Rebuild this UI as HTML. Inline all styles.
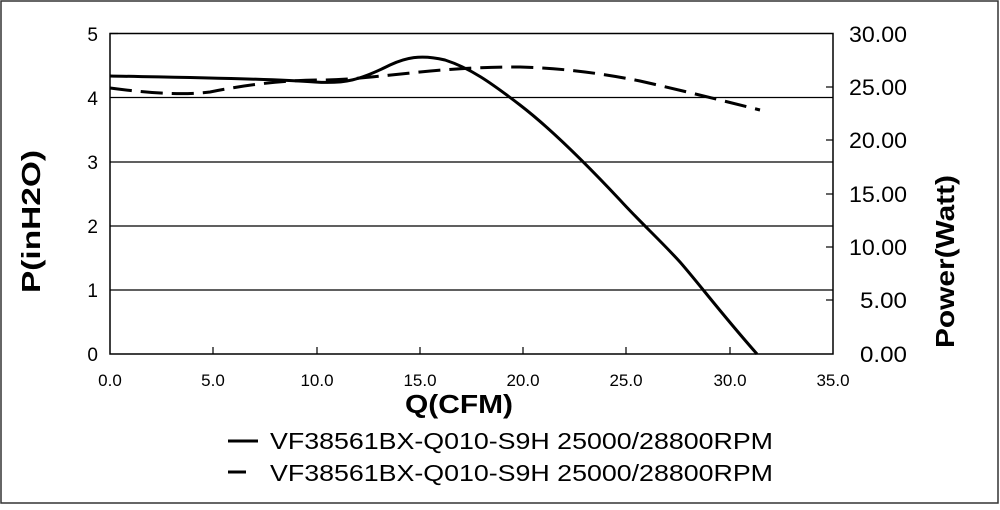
<!DOCTYPE html>
<html><head><style>body{margin:0;background:#fff}</style></head><body>
<svg width="1000" height="505" xmlns="http://www.w3.org/2000/svg" font-family="Liberation Sans, sans-serif">
<rect x="1" y="1" width="997" height="502" fill="#fff" stroke="#333" stroke-width="1.5"/>
<g stroke="#000" stroke-width="1.2">
<line x1="110" y1="97.5" x2="833" y2="97.5"/>
<line x1="110" y1="162" x2="833" y2="162"/>
<line x1="110" y1="226" x2="833" y2="226"/>
<line x1="110" y1="290" x2="833" y2="290"/>
</g>
<rect x="110" y="33.5" width="723" height="320.5" fill="none" stroke="#000" stroke-width="1.5"/>
<g stroke="#000" stroke-width="1.2">
<line x1="110" y1="33.5" x2="118" y2="33.5"/>
<line x1="213" y1="354" x2="213" y2="347"/><line x1="317" y1="354" x2="317" y2="347"/>
<line x1="420" y1="354" x2="420" y2="347"/><line x1="523" y1="354" x2="523" y2="347"/>
<line x1="626" y1="354" x2="626" y2="347"/><line x1="730" y1="354" x2="730" y2="347"/>
<line x1="833" y1="87" x2="826" y2="87"/><line x1="833" y1="140" x2="826" y2="140"/>
<line x1="833" y1="194" x2="826" y2="194"/><line x1="833" y1="247" x2="826" y2="247"/>
<line x1="833" y1="300" x2="826" y2="300"/>
</g>
<g font-size="19" text-anchor="end" fill="#000">
<text x="98" y="41">5</text><text x="98" y="105">4</text><text x="98" y="169">3</text>
<text x="98" y="233">2</text><text x="98" y="297">1</text><text x="98" y="361">0</text>
</g>
<g font-size="22" fill="#000" lengthAdjust="spacingAndGlyphs">
<text x="849" y="42" textLength="58" lengthAdjust="spacingAndGlyphs">30.00</text><text x="849" y="95" textLength="58" lengthAdjust="spacingAndGlyphs">25.00</text><text x="849" y="148" textLength="58" lengthAdjust="spacingAndGlyphs">20.00</text>
<text x="849" y="202" textLength="58" lengthAdjust="spacingAndGlyphs">15.00</text><text x="849" y="255" textLength="58" lengthAdjust="spacingAndGlyphs">10.00</text><text x="860" y="308" textLength="47" lengthAdjust="spacingAndGlyphs">5.00</text>
<text x="860" y="362" textLength="47" lengthAdjust="spacingAndGlyphs">0.00</text>
</g>
<g font-size="17" text-anchor="middle" fill="#000">
<text x="110" y="386">0.0</text><text x="213" y="386">5.0</text><text x="317" y="386">10.0</text>
<text x="420" y="386">15.0</text><text x="523" y="386">20.0</text><text x="626" y="386">25.0</text>
<text x="730" y="386">30.0</text><text x="833" y="386">35.0</text>
</g>
<text x="405" y="413" font-size="26" font-weight="bold" textLength="108" lengthAdjust="spacingAndGlyphs">Q(CFM)</text>
<text transform="translate(40,293) rotate(-90)" font-size="26" font-weight="bold" textLength="143" lengthAdjust="spacingAndGlyphs">P(inH2O)</text>
<text transform="translate(954,348) rotate(-90)" font-size="26" font-weight="bold" textLength="173" lengthAdjust="spacingAndGlyphs">Power(Watt)</text>
<path d="M110,76 C160,77 260,78 315,82 C345,84 360,80 390,65 C405,58 420,54 445,60 C470,68 490,82 520,105 C550,128 590,168 620,200 C640,222 660,240 680,262 C700,285 720,312 757,354" fill="none" stroke="#000" stroke-width="3"/>
<path d="M110,88 C140,92 180,96 210,92 C240,86 280,80 320,80 C350,80 380,76 420,72 C450,69 480,67 520,67 C560,68 600,73 640,81 C680,90 720,100 760,110" fill="none" stroke="#000" stroke-width="3" stroke-dasharray="22,9"/>
<line x1="228" y1="441" x2="258" y2="441" stroke="#000" stroke-width="3"/>
<line x1="228" y1="472" x2="246" y2="472" stroke="#000" stroke-width="3"/>
<text x="270" y="449" font-size="23" textLength="503" lengthAdjust="spacingAndGlyphs">VF38561BX-Q010-S9H 25000/28800RPM</text>
<text x="270" y="481" font-size="23" textLength="503" lengthAdjust="spacingAndGlyphs">VF38561BX-Q010-S9H 25000/28800RPM</text>
</svg>
</body></html>
